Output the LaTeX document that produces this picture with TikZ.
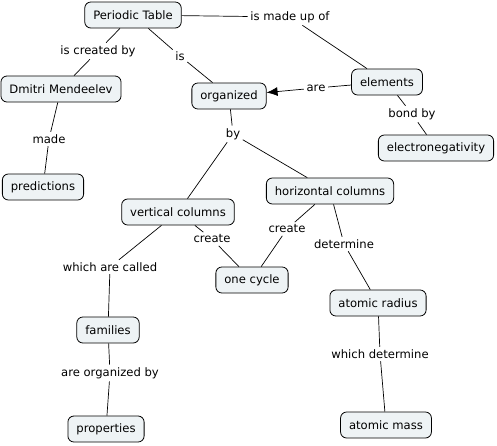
\documentclass[tikz,border=0pt]{standalone}
\usepackage{fontspec}
\setmainfont{DejaVu Sans}
\usepackage{xcolor}
\usetikzlibrary{arrows.meta, positioning}
\definecolor{conceptfill}{HTML}{EEF3F5}

\begin{document}
\begin{tikzpicture}[
    x=1pt, y=-1pt,
    concept/.style={draw, line width=0.8pt, rounded corners=6pt, fill=conceptfill, minimum height=26pt, inner xsep=8.5pt, font=\fontsize{11.6}{13}\selectfont},
    lnk/.style={fill=white, inner sep=2.5pt, font=\fontsize{11.6}{13}\selectfont},
    con/.style={line width=0.7pt},
    arr/.style={-{Latex[length=11pt,width=9pt]}, line width=0.7pt}
]
    \useasboundingbox (0,0) rectangle (497,445);

    % concepts
    \node[concept] (table)    at (133,15)  {Periodic Table};
    \node[concept] (dmitri)   at (61,89)   {Dmitri Mendeelev};
    \node[concept] (predict)  at (43,187)  {predictions};
    \node[concept] (organized) at (229,96) {organized};
    \node[concept] (elements) at (387,82)  {elements};
    \node[concept] (electro)  at (436,148) {electronegativity};
    \node[concept] (horiz)    at (330,191) {horizontal columns};
    \node[concept] (vert)     at (178,212) {vertical columns};
    \node[concept] (cycle)    at (252,280) {one cycle};
    \node[concept] (families) at (108,330) {families};
    \node[concept] (radius)   at (378,303) {atomic radius};
    \node[concept] (props)    at (106,429) {properties};
    \node[concept] (mass)     at (386,425) {atomic mass};

    % linking phrases
    \node[lnk] (madeup)  at (290,17)  {is made up of};
    \node[lnk] (created) at (98,51)   {is created by};
    \node[lnk] (is)      at (180,56)  {is};
    \node[lnk] (are)     at (316,88)  {are};
    \node[lnk] (bond)    at (412,114) {bond by};
    \node[lnk] (by)      at (233,134) {by};
    \node[lnk] (made)    at (49,139)  {made};
    \node[lnk] (createv) at (212,239) {create};
    \node[lnk] (createh) at (287,229) {create};
    \node[lnk] (determ)  at (344,244) {determine};
    \node[lnk] (called)  at (110,267) {which are called};
    \node[lnk] (orgby)   at (110,373) {are organized by};
    \node[lnk] (whichdet) at (380,354) {which determine};

    \draw[con] (table) -- (madeup);
    \draw[con] (madeup) -- (elements);
    \draw[con] (table) -- (created);
    \draw[con] (created) -- (dmitri);
    \draw[con] (table) -- (is);
    \draw[con] (is) -- (organized);
    \draw[con] (elements) -- (are);
    \draw[arr] (are) -- (organized);
    \draw[con] (elements) -- (bond);
    \draw[con] (bond) -- (electro);
    \draw[con] (dmitri) -- (made);
    \draw[con] (made) -- (predict);
    \draw[con] (organized) -- (by);
    \draw[con] (by) -- (vert);
    \draw[con] (by) -- (horiz);
    \draw[con] (vert) -- (createv);
    \draw[con] (createv) -- (cycle);
    \draw[con] (horiz) -- (createh);
    \draw[con] (createh) -- (cycle);
    \draw[con] (horiz) -- (determ);
    \draw[con] (determ) -- (radius);
    \draw[con] (vert) -- (called);
    \draw[con] (called) -- (families);
    \draw[con] (families) -- (orgby);
    \draw[con] (orgby) -- (props);
    \draw[con] (radius) -- (whichdet);
    \draw[con] (whichdet) -- (mass);
\end{tikzpicture}
\end{document}
